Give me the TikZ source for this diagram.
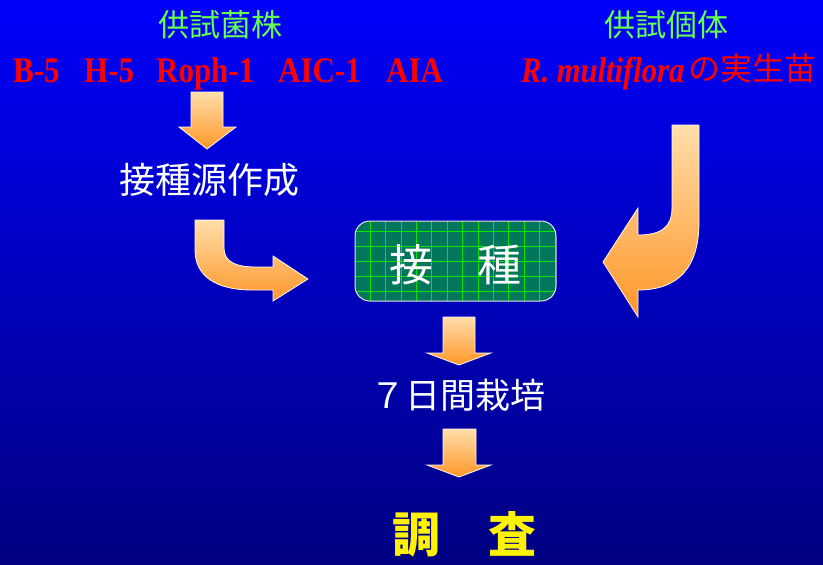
\documentclass[tikz,border=0pt]{standalone}
\usepackage{fontspec}
\newfontfamily\cjk{Noto Sans CJK JP}
\newfontfamily\tms[FakeStretch=0.86]{Liberation Serif}
\newfontfamily\tmsit[FakeStretch=0.85]{Liberation Serif}
\definecolor{bgtop}{RGB}{0,0,250}
\definecolor{bgbot}{RGB}{0,0,128}
\definecolor{arrlight}{RGB}{255,222,170}
\definecolor{arrdark}{RGB}{255,150,40}
\definecolor{boxfill}{RGB}{0,118,90}
\definecolor{gridgreen}{RGB}{0,230,0}
\definecolor{titlegreen}{RGB}{102,255,80}
\definecolor{redtxt}{RGB}{255,0,0}
\tikzset{
  fatarrow/.style={top color=arrlight, bottom color=arrdark, draw=white!85!arrlight, line width=0.8pt},
  greentitle/.style={text=titlegreen, font=\cjk\fontsize{31}{34}\selectfont, inner sep=0pt},
  redlabel/.style={text=redtxt, font=\tms\bfseries\fontsize{36}{40}\selectfont, inner sep=0pt, anchor=base west},
  whitelabel/.style={text=white, font=\cjk\fontsize{36}{40}\selectfont, inner sep=0pt},
}
\begin{document}
\begin{tikzpicture}[x=1pt,y=-1pt]
\useasboundingbox (0,0) rectangle (823,565);
\shade[top color=bgtop, bottom color=bgbot] (0,0) rectangle (823,565);

% titles
\node[greentitle] (t1) at (220,25) {供試菌株};
\node[greentitle] (t2) at (666,25) {供試個体};

% strains
\node[redlabel] (s1) at (13,82) {B-5};
\node[redlabel] (s2) at (84,82) {H-5};
\node[redlabel] (s3) at (156,82) {Roph-1};
\node[redlabel] (s4) at (278,82) {AIC-1};
\node[redlabel] (s5) at (386,82) {AIA};
\node[redlabel, font=\tmsit\bfseries\itshape\fontsize{36}{40}\selectfont] (s6) at (521,82) {R. multiflora};
\node[text=redtxt, font=\cjk\fontsize{32}{36}\selectfont, inner sep=0pt, anchor=base east] (s7) at (817,80) {の実生苗};

% arrow 1 down
\path[fatarrow] (191,92) -- (223,92) -- (223,127) -- (236,127) -- (207,149) -- (179,127) -- (191,127) -- cycle;

\node[whitelabel] (prep) at (209,180) {接種源作成};

% bent arrow left
\path[fatarrow] (195,220) -- (224,220) -- (224,248)
  .. controls (224,262) and (236,267) .. (256,267) -- (273,267) -- (273,256)
  -- (308,279) -- (273,301) -- (273,290) -- (252,290)
  .. controls (216,290) and (195,276) .. (195,250) -- cycle;

% J arrow right
\path[fatarrow] (672,125) -- (699,125) -- (699,222)
  .. controls (699,268) and (678,290) .. (638,290) -- (638,317)
  -- (603,262) -- (638,208) -- (638,235)
  .. controls (660,235) and (672,228) .. (672,208) -- cycle;

% inoculation box
\begin{scope}
\clip[rounded corners=15pt] (355,221) rectangle (556,301);
\fill[boxfill] (355,221) rectangle (556,301);
\foreach \i in {0,...,12} \draw[gridgreen, line width=0.6pt] (370+15.4*\i,221) -- (370+15.4*\i,301);
\foreach \j in {0,...,4} \draw[gridgreen, line width=0.6pt] (355,231.7+15*\j) -- (556,231.7+15*\j);
\end{scope}
\draw[white!80!gray, line width=1pt, rounded corners=15pt] (355,221) rectangle (556,301);
\node[text=white, font=\cjk\fontsize{44}{48}\selectfont, inner sep=0pt] (inoc) at (455,265) {接　種};

% arrow down center
\path[fatarrow] (443,317) -- (475,317) -- (475,353) -- (491,353) -- (459,365) -- (427,353) -- (443,353) -- cycle;

\node[whitelabel, font=\cjk\fontsize{35}{38}\selectfont] (grow) at (458,395) {７日間栽培};

% arrow down bottom
\path[fatarrow] (443,429) -- (476,429) -- (476,465) -- (491,465) -- (459,477) -- (427,465) -- (443,465) -- cycle;

\node[text=yellow, font=\cjk\bfseries\fontsize{48}{52}\selectfont, inner sep=0pt] (survey) at (464,534) {調　査};
\end{tikzpicture}
\end{document}
